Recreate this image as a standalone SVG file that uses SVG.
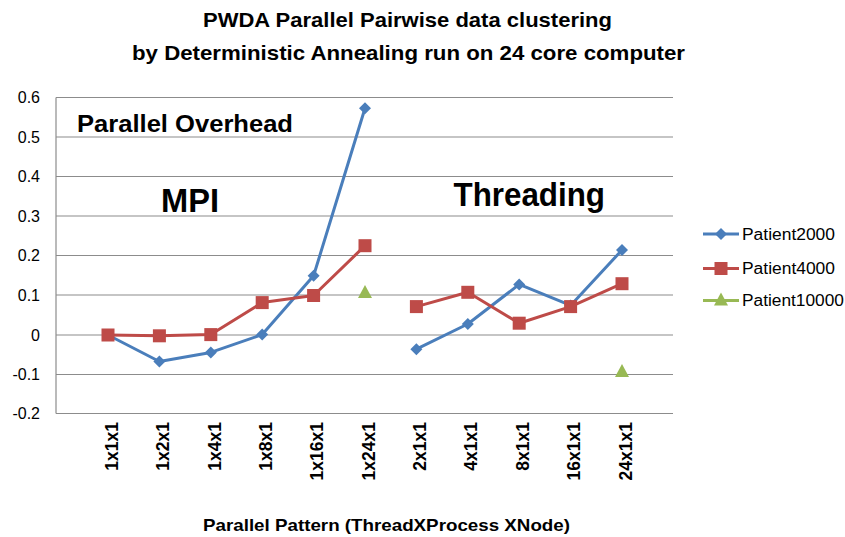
<svg xmlns="http://www.w3.org/2000/svg" width="845" height="537" viewBox="0 0 845 537">
  <style>
    text { font-family: "Liberation Sans", Arial, sans-serif; fill: #000; }
    .title { font-size: 21px; font-weight: bold; }
    .ytick { font-size: 16px; text-anchor: end; }
    .xtick { font-size: 17.5px; font-weight: bold; text-anchor: end; }
    .axis-title { font-size: 17px; font-weight: bold; }
    .note { font-weight: bold; }
    .legend { font-size: 16px; }
    .grid { stroke: #8c8c8c; stroke-width: 1.2; fill: none; }
    .s2000 { stroke: #4a7ebb; stroke-width: 3; fill: none; stroke-linejoin: round; }
    .s4000 { stroke: #be4b48; stroke-width: 3; fill: none; stroke-linejoin: round; }
    .s10000 { stroke: #98b954; stroke-width: 3; fill: none; }
  </style>
  <defs>
    <path id="diamond" d="M0,-6 L6,0 L0,6 L-6,0 Z" fill="#4a7ebb"/>
    <rect id="square" x="-6.5" y="-6.5" width="13" height="13" fill="#be4b48"/>
    <path id="triangle" d="M0,-7 L7,6 L-7,6 Z" fill="#98b954"/>
  </defs>

  <rect width="845" height="537" fill="#ffffff"/>

  <!-- chart title -->
  <g id="title">
    <text class="title" x="203" y="27" textLength="409" lengthAdjust="spacingAndGlyphs">PWDA Parallel Pairwise data clustering</text>
    <text class="title" x="132" y="60" textLength="553" lengthAdjust="spacingAndGlyphs">by Deterministic Annealing run on 24 core computer</text>
  </g>

  <!-- plot area: gridlines and axes -->
  <g id="grid">
    <line class="grid" x1="56" y1="97.5" x2="673" y2="97.5"/>
    <line class="grid" x1="56" y1="137" x2="673" y2="137"/>
    <line class="grid" x1="56" y1="176.5" x2="673" y2="176.5"/>
    <line class="grid" x1="56" y1="216" x2="673" y2="216"/>
    <line class="grid" x1="56" y1="255.5" x2="673" y2="255.5"/>
    <line class="grid" x1="56" y1="295" x2="673" y2="295"/>
    <line class="grid" x1="56" y1="335" x2="673" y2="335"/>
    <line class="grid" x1="56" y1="374.5" x2="673" y2="374.5"/>
    <line class="grid" x1="56" y1="413.5" x2="673" y2="413.5"/>
    <line class="grid" x1="56" y1="97.5" x2="56" y2="413.5"/>
  </g>

  <!-- y axis labels -->
  <g id="y-axis">
    <text class="ytick" x="40" y="103">0.6</text>
    <text class="ytick" x="40" y="142.5">0.5</text>
    <text class="ytick" x="40" y="182">0.4</text>
    <text class="ytick" x="40" y="221.5">0.3</text>
    <text class="ytick" x="40" y="261">0.2</text>
    <text class="ytick" x="40" y="300.5">0.1</text>
    <text class="ytick" x="40" y="340.5">0</text>
    <text class="ytick" x="40" y="380">-0.1</text>
    <text class="ytick" x="40" y="419">-0.2</text>
  </g>

  <!-- x axis category labels -->
  <g id="x-axis">
    <text class="xtick" transform="translate(117.5,422) rotate(-90)">1x1x1</text>
    <text class="xtick" transform="translate(169,422) rotate(-90)">1x2x1</text>
    <text class="xtick" transform="translate(220.5,422) rotate(-90)">1x4x1</text>
    <text class="xtick" transform="translate(272,422) rotate(-90)">1x8x1</text>
    <text class="xtick" transform="translate(323,422) rotate(-90)">1x16x1</text>
    <text class="xtick" transform="translate(374.5,422) rotate(-90)">1x24x1</text>
    <text class="xtick" transform="translate(426,422) rotate(-90)">2x1x1</text>
    <text class="xtick" transform="translate(477,422) rotate(-90)">4x1x1</text>
    <text class="xtick" transform="translate(528.5,422) rotate(-90)">8x1x1</text>
    <text class="xtick" transform="translate(580,422) rotate(-90)">16x1x1</text>
    <text class="xtick" transform="translate(631.5,422) rotate(-90)">24x1x1</text>
    <text class="axis-title" x="203" y="531" textLength="367" lengthAdjust="spacingAndGlyphs">Parallel Pattern (ThreadXProcess XNode)</text>
  </g>

  <!-- annotations inside the plot -->
  <g id="annotations">
    <text class="note" x="77" y="131.5" font-size="23" textLength="216" lengthAdjust="spacingAndGlyphs">Parallel Overhead</text>
    <text class="note" x="161" y="211.5" font-size="33" textLength="58" lengthAdjust="spacingAndGlyphs">MPI</text>
    <text class="note" x="453.5" y="206" font-size="33" textLength="151.5" lengthAdjust="spacingAndGlyphs">Threading</text>
  </g>

  <!-- data series -->
  <g id="series-patient2000">
    <polyline class="s2000" points="108,335 159.4,361.5 210.8,352.4 262.2,334.6 313.6,275.8 365,108.3"/>
    <polyline class="s2000" points="416.4,349.2 467.8,324 519.2,284.4 570.6,305.4 622,250"/>
    <use href="#diamond" x="108" y="335"/>
    <use href="#diamond" x="159.4" y="361.5"/>
    <use href="#diamond" x="210.8" y="352.4"/>
    <use href="#diamond" x="262.2" y="334.6"/>
    <use href="#diamond" x="313.6" y="275.8"/>
    <use href="#diamond" x="365" y="108.3"/>
    <use href="#diamond" x="416.4" y="349.2"/>
    <use href="#diamond" x="467.8" y="324"/>
    <use href="#diamond" x="519.2" y="284.4"/>
    <use href="#diamond" x="570.6" y="305.4"/>
    <use href="#diamond" x="622" y="250"/>
  </g>

  <g id="series-patient4000">
    <polyline class="s4000" points="108,335 159.4,335.8 210.8,334.6 262.2,302.6 313.6,295.5 365,245.7"/>
    <polyline class="s4000" points="416.4,306.6 467.8,292.3 519.2,323.2 570.6,306.6 622,283.7"/>
    <use href="#square" x="108" y="335"/>
    <use href="#square" x="159.4" y="335.8"/>
    <use href="#square" x="210.8" y="334.6"/>
    <use href="#square" x="262.2" y="302.6"/>
    <use href="#square" x="313.6" y="295.5"/>
    <use href="#square" x="365" y="245.7"/>
    <use href="#square" x="416.4" y="306.6"/>
    <use href="#square" x="467.8" y="292.3"/>
    <use href="#square" x="519.2" y="323.2"/>
    <use href="#square" x="570.6" y="306.6"/>
    <use href="#square" x="622" y="283.7"/>
  </g>

  <g id="series-patient10000">
    <use href="#triangle" x="365" y="292"/>
    <use href="#triangle" x="622" y="371"/>
  </g>

  <!-- legend -->
  <g id="legend">
    <line class="s2000" x1="703" y1="234" x2="739" y2="234"/>
    <use href="#diamond" x="721" y="234"/>
    <text class="legend" x="742" y="240" textLength="93" lengthAdjust="spacingAndGlyphs">Patient2000</text>
    <line class="s4000" x1="703" y1="268.5" x2="739" y2="268.5"/>
    <use href="#square" x="721" y="268.5"/>
    <text class="legend" x="742" y="273.5" textLength="93" lengthAdjust="spacingAndGlyphs">Patient4000</text>
    <line class="s10000" x1="703" y1="300.5" x2="739" y2="300.5"/>
    <use href="#triangle" x="721" y="299.5"/>
    <text class="legend" x="742" y="305.5" textLength="102" lengthAdjust="spacingAndGlyphs">Patient10000</text>
  </g>
</svg>
